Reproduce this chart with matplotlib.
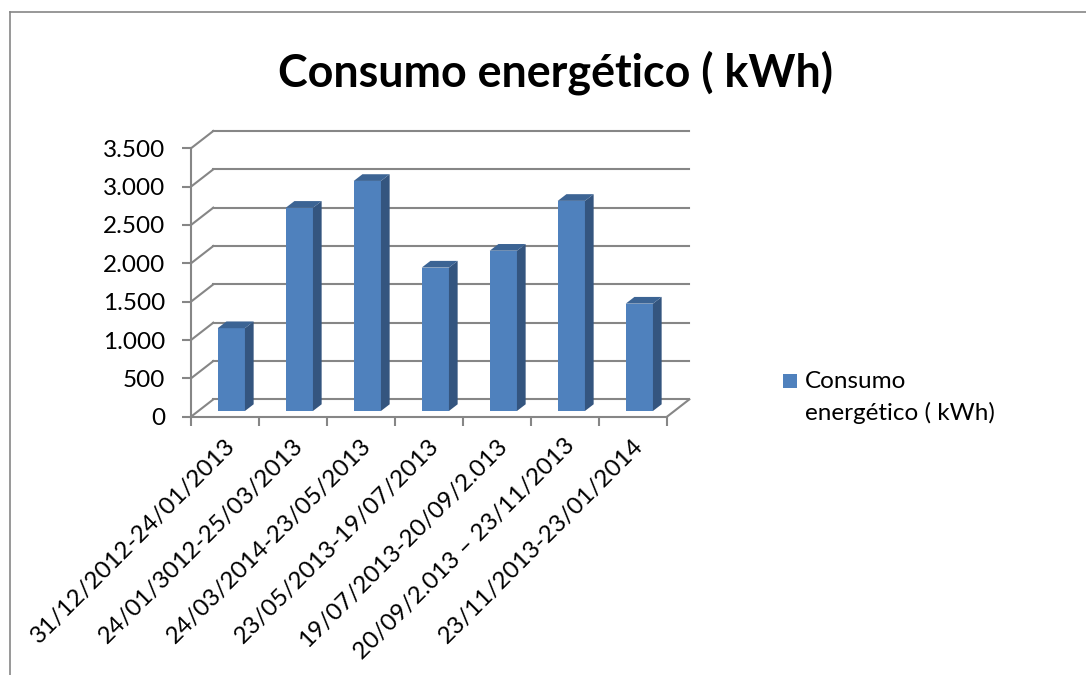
import numpy as np
import matplotlib
matplotlib.use("Agg")
import matplotlib.pyplot as plt
from matplotlib.patches import Polygon, Rectangle
from matplotlib.lines import Line2D
from matplotlib.transforms import ScaledTranslation

# data
categories = [
    "31/12/2012-24/01/2013",
    "24/01/3012-25/03/2013",
    "24/03/2014-23/05/2013",
    "23/05/2013-19/07/2013",
    "19/07/2013-20/09/2.013",
    "20/09/2.013 \u2013 23/11/2013",
    "23/11/2013-23/01/2014",
]
consumo = [1080, 2650, 3000, 1870, 2090, 2740, 1400]
yticks = [0, 500, 1000, 1500, 2000, 2500, 3000, 3500]
series_name = "Consumo energético ( kWh)"
title = "Consumo energético ( kWh)"

W, H = 1086, 675
FONT = "Lato"
GRID = "#868686"
FRONT = "#4F81BD"
SIDE = "#34557F"
TOP = "#3C6494"
FS = 17.5

plt.rcParams['font.family'] = [FONT, 'DejaVu Sans']

fig = plt.figure(figsize=(W / 100, H / 100), dpi=100)
fig.patch.set_facecolor("white")

# outer chart frame
fig.add_artist(Line2D([10 / W, 1.0], [1 - 12 / H, 1 - 12 / H], color=GRID, lw=1.2,
                      transform=fig.transFigure))
fig.add_artist(Line2D([10 / W, 10 / W], [0, 1 - 12 / H], color=GRID, lw=1.2,
                      transform=fig.transFigure))

# front plane of the 3d box
ax = fig.add_axes([191 / W, (H - 416.7) / H, 476 / W, 268.4 / H])
ax.set_facecolor("none")
n = len(categories)
ax.set_xlim(0, n)
ax.set_ylim(0, 3500)

# depth of the box (oblique projection), in data units
DX = 22.3 / 68
DY = 17.3 * 3500 / 268.4
lw = 1.5

# back wall gridlines + left wall diagonals
for v in yticks:
    ax.plot([DX, n + DX], [v + DY, v + DY], color=GRID, lw=lw, clip_on=False, zorder=1)
    ax.plot([0, DX], [v, v + DY], color=GRID, lw=lw, clip_on=False, zorder=1)
# floor right edge
ax.plot([n, n + DX], [0, DY], color=GRID, lw=lw, clip_on=False, zorder=1)

# bars: front face sits about a third of the way into the box
f = 0.33
bw = 0.40
bdx, bdy = 8.7 / 68, 6.7 * 3500 / 268.4
x = np.arange(n) + 0.5 + f * DX - 0.015
base = f * DY
bars = ax.bar(x, consumo, width=bw, bottom=base, color=FRONT, zorder=3,
              clip_on=False, label=series_name)
for b in bars:
    xl = b.get_x()
    xr = xl + b.get_width()
    y0 = b.get_y()
    y1 = y0 + b.get_height()
    side = Polygon([(xr, y0), (xr + bdx, y0 + bdy), (xr + bdx, y1 + bdy), (xr, y1)],
                   closed=True, facecolor=SIDE, edgecolor="none", zorder=3, clip_on=False)
    top = Polygon([(xl, y1), (xl + bdx, y1 + bdy), (xr + bdx, y1 + bdy), (xr, y1)],
                  closed=True, facecolor=TOP, edgecolor="none", zorder=3, clip_on=False)
    ax.add_patch(side)
    ax.add_patch(top)

# axes look
for s in ("top", "right"):
    ax.spines[s].set_visible(False)
for s in ("left", "bottom"):
    ax.spines[s].set_color(GRID)
    ax.spines[s].set_linewidth(lw)

ax.set_yticks(yticks)
ax.set_yticklabels([f"{v:,}".replace(",", ".") for v in yticks])
ax.tick_params(axis="y", direction="out", length=6.5, width=lw, color=GRID,
               pad=12, labelsize=FS)

ax.set_xticks(np.arange(n + 1))
ax.set_xticklabels([])
ax.tick_params(axis="x", which="major", direction="out", length=6.5, width=lw, color=GRID)
ax.set_xticks(np.arange(n) + 0.5, minor=True)
ax.set_xticklabels(categories, minor=True, rotation=45, ha="right",
                   rotation_mode="anchor", fontsize=FS)
ax.tick_params(axis="x", which="minor", length=0, pad=13)
shift = ScaledTranslation(-0.01, 0, fig.dpi_scale_trans)
for lbl in ax.get_xticklabels(minor=True):
    lbl.set_transform(lbl.get_transform() + shift)

# title
fig.text(555 / W, 1 - 73 / H, title, ha="center", va="center",
         fontsize=32.3, fontweight="bold")

# legend
fig.add_artist(Rectangle((783 / W, 1 - 388 / H), 14 / W, 14 / H, facecolor=FRONT,
                         edgecolor="none", transform=fig.transFigure))
fig.text(805 / W, 1 - 381.5 / H, "Consumo", ha="left", va="center", fontsize=FS)
fig.text(805 / W, 1 - 413 / H, "energético ( kWh)", ha="left", va="center", fontsize=FS)

fig.savefig("out.png", dpi=100)
